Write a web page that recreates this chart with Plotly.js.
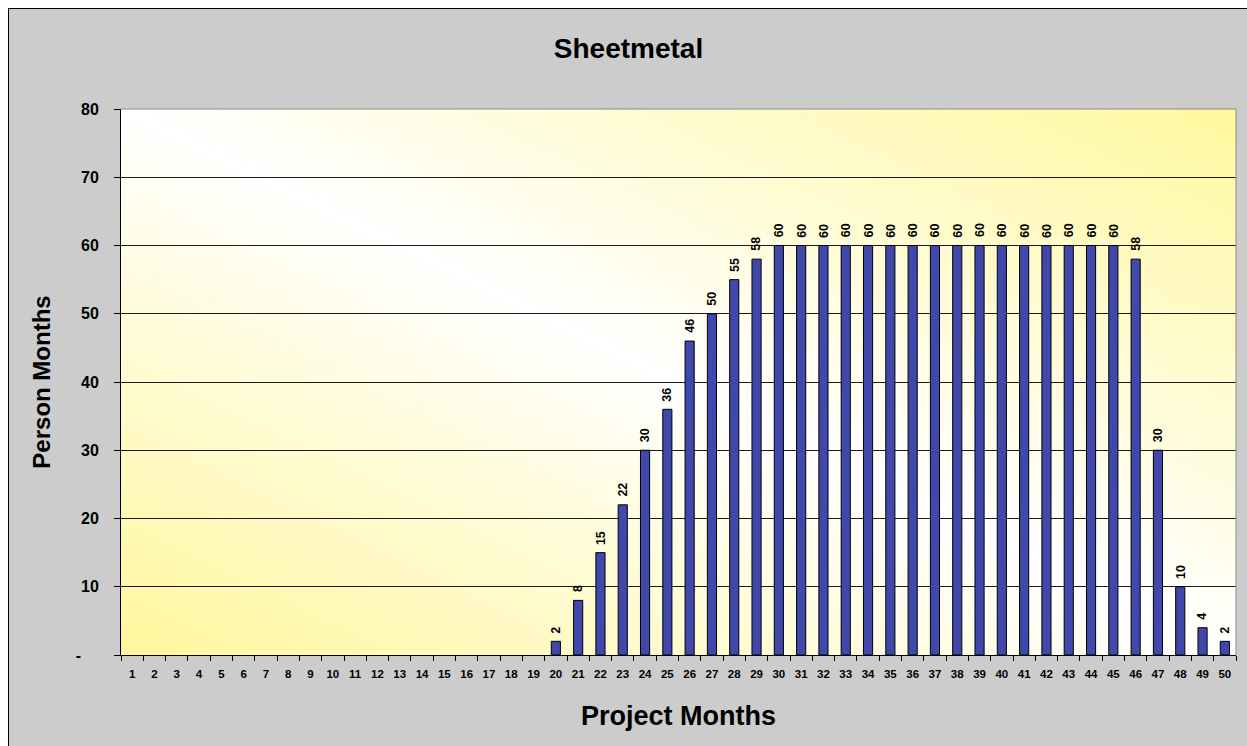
<!DOCTYPE html>
<html>
<head>
<meta charset="utf-8">
<script src="https://cdn.plot.ly/plotly-3.0.1.min.js"></script>
<style>
  html, body { margin: 0; padding: 0; background: #ffffff; overflow: hidden; }
  #chart { position: absolute; left: 8px; top: 8px; width: 1239px; height: 738px;
           border-left: 1px solid #000; border-top: 1px solid #000; }
</style>
</head>
<body>
<div id="chart"></div>
<script>
const chartTitle = 'Sheetmetal';
const xTitle = 'Project Months';
const yTitle = 'Person Months';

const months = ['1','2','3','4','5','6','7','8','9','10',
                '11','12','13','14','15','16','17','18','19','20',
                '21','22','23','24','25','26','27','28','29','30',
                '31','32','33','34','35','36','37','38','39','40',
                '41','42','43','44','45','46','47','48','49','50'];

const personMonths = [0,0,0,0,0,0,0,0,0,0,
                      0,0,0,0,0,0,0,0,0,2,
                      8,15,22,30,36,46,50,55,58,60,
                      60,60,60,60,60,60,60,60,60,60,
                      60,60,60,60,60,58,30,10,4,2];

const yTickVals = [0,10,20,30,40,50,60,70,80];
const yTickText = ['-\u00A0\u00A0\u00A0\u00A0','10','20','30','40','50','60','70','80'];

const FONT = 'Liberation Sans, Arial, sans-serif';

// diagonal two-sided gradient for the plot area (yellow corners, white diagonal)
function makeGradient() {
  const c = document.createElement('canvas');
  c.width = 256; c.height = 256;
  const ctx = c.getContext('2d');
  const g = ctx.createLinearGradient(0, 256, 256, 0);
  g.addColorStop(0, '#FFF79C');
  g.addColorStop(0.5, '#FFFFFF');
  g.addColorStop(1, '#FFF89E');
  ctx.fillStyle = g;
  ctx.fillRect(0, 0, 256, 256);
  return c.toDataURL('image/png');
}

const trace = {
  type: 'bar',
  x: months,
  y: personMonths,
  marker: {
    color: '#4148AB',
    line: { color: '#000000', width: personMonths.map(v => v > 0 ? 1 : 0) }
  },
  hoverinfo: 'x+y'
};

// value labels, positioned on the category axis by category index
const labelAnnotations = personMonths
  .map((v, i) => ({ i: i, v: v }))
  .filter(d => d.v > 0)
  .map(d => ({
    x: d.i, y: d.v, xref: 'x', yref: 'y',
    text: String(d.v), showarrow: false, textangle: -90,
    xanchor: 'center', yanchor: 'bottom', yshift: 6,
    font: { family: FONT, size: 12.5, weight: 'bold', color: '#000' }
  }));

const layout = {
  width: 1239, height: 738,
  margin: { l: 112, r: 12, t: 100, b: 92, pad: 0 },
  paper_bgcolor: '#CCCCCC',
  plot_bgcolor: '#FFFFFF',
  showlegend: false,
  bargap: 0.59,
  font: { family: FONT, color: '#000' },
  title: {
    text: chartTitle,
    xref: 'container', x: 0.5, xanchor: 'center',
    yref: 'container', y: 1 - 39 / 738, yanchor: 'middle',
    font: { family: FONT, size: 28, weight: 'bold', color: '#000' }
  },
  xaxis: {
    type: 'category',
    categoryorder: 'array', categoryarray: months,
    tickson: 'boundaries',
    ticks: 'outside', ticklen: 5, tickcolor: '#000', tickwidth: 1,
    showline: true, linecolor: '#000', linewidth: 1,
    showgrid: false, zeroline: false,
    tickangle: 0,
    tickfont: { family: FONT, size: 11.5, weight: 'bold', color: '#000' },
    ticklabelstandoff: 8,
    automargin: false,
    title: { text: xTitle, standoff: 27,
             font: { family: FONT, size: 27, weight: 'bold', color: '#000' } }
  },
  yaxis: {
    range: [0, 80],
    tickmode: 'array', tickvals: yTickVals, ticktext: yTickText,
    ticks: 'outside', ticklen: 6, tickcolor: '#000', tickwidth: 1,
    showline: true, linecolor: '#000', linewidth: 1,
    showgrid: true, gridcolor: '#1a1a1a', gridwidth: 1,
    zeroline: false,
    tickfont: { family: FONT, size: 16, weight: 'bold', color: '#000' },
    ticklabelstandoff: 12,
    automargin: false,
    title: { text: yTitle, standoff: 18,
             font: { family: FONT, size: 24, weight: 'bold', color: '#000' } }
  },
  annotations: labelAnnotations,
  images: [{
    source: makeGradient(),
    xref: 'paper', yref: 'paper', x: 0, y: 1, sizex: 1, sizey: 1,
    xanchor: 'left', yanchor: 'top', sizing: 'stretch', layer: 'below'
  }],
  shapes: [
    { type: 'line', xref: 'paper', yref: 'paper', x0: 0, x1: 1, y0: 1, y1: 1,
      line: { color: '#8C8C8C', width: 1 }, layer: 'above' },
    { type: 'line', xref: 'paper', yref: 'paper', x0: 1, x1: 1, y0: 0, y1: 1,
      line: { color: '#8C8C8C', width: 1 }, layer: 'above' }
  ]
};

Plotly.newPlot('chart', [trace], layout, { displayModeBar: false, staticPlot: true });
</script>
</body>
</html>
